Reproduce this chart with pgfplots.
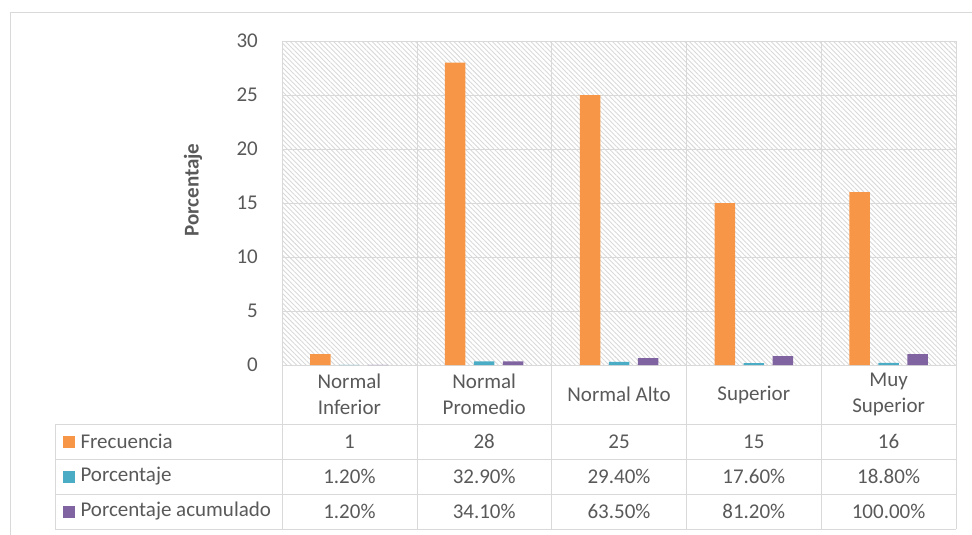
\documentclass[border=0pt]{standalone}
\usepackage{fontspec}
\setmainfont{Carlito}
\usepackage{pgfplots}
\usepackage{pgfplotstable}
\pgfplotsset{compat=1.18}
\usetikzlibrary{patterns.meta}
\definecolor{cfrec}{HTML}{F79646}
\definecolor{cporc}{HTML}{4BACC6}
\definecolor{cacum}{HTML}{8064A2}
\definecolor{cline}{HTML}{D9D9D9}
\definecolor{ctext}{HTML}{595959}
\newcommand{\cf}{\fontsize{21bp}{26bp}\selectfont}

% categoria, frecuencia, porcentaje, porcentaje acumulado
\pgfplotstableread{
x frec porc acum
0 1  0.012 0.012
1 28 0.329 0.341
2 25 0.294 0.635
3 15 0.176 0.812
4 16 0.188 1.000
}\datos

\begin{document}
\begin{tikzpicture}
\useasboundingbox (0,0) rectangle (972bp,-535bp);
\begin{axis}[
  at={(282bp,-365bp)}, anchor=south west,
  scale only axis, width=674bp, height=324bp,
  xmin=-0.5, xmax=4.5, ymin=0, ymax=30,
  ybar=8.5bp, bar width=20.5bp,
  xtick=\empty, ytick={0,5,...,30},
  ymajorgrids, grid style={cline, line width=1bp},
  major tick length=0pt,
  axis line style={cline, line width=1bp},
  axis background/.style={pattern={Lines[angle=-45,distance=3.4bp,line width=0.9bp]}, pattern color=cline},
  tick label style={font=\cf, text=ctext},
  /pgf/number format/assume math mode=true,
  yticklabel style={inner sep=0pt, xshift=-24bp},
  ylabel={Porcentaje},
  ylabel style={font=\cf\bfseries, text=ctext, at={(axis description cs:-0.132,0.54)}, anchor=center},
  clip=false,
]
\addplot[fill=cfrec, draw=none] table[x=x, y=frec]{\datos};
\addplot[fill=cporc, draw=none] table[x=x, y=porc]{\datos};
\addplot[fill=cacum, draw=none] table[x=x, y=acum]{\datos};
\end{axis}

\begin{scope}[x=1bp, y=-1bp, line width=1bp]
  \draw[cline] (10,535) -- (10,12) -- (972,12);
  \foreach \xx in {417,551,686,821} \draw[cline] (\xx,41) -- (\xx,529);
  \draw[cline] (282,365) -- (282,529);
  \draw[cline] (956,365) -- (956,529);
  \draw[cline] (55,424) -- (55,529);
  \foreach \yy in {424,459,494,529} \draw[cline] (55,\yy) -- (956,\yy);

  \begin{scope}[every node/.style={text=ctext, font=\cf, align=center, inner sep=0pt}]
  \node at (349.4,394.5) {Normal\\Inferior};
  \node at (484.2,394.5) {Normal\\Promedio};
  \node at (619.0,394.5) {Normal Alto};
  \node at (753.8,394.5) {Superior};
  \node at (888.6,394.5) {Muy\\Superior};

  \fill[cfrec] (63,435.5) rectangle (75,447.5);
  \fill[cporc] (63,470.5) rectangle (75,482.5);
  \fill[cacum] (63,505.5) rectangle (75,517.5);
  \node[anchor=west] at (80,441.5) {Frecuencia};
  \node[anchor=west] at (80,476.5) {Porcentaje};
  \node[anchor=west] at (80,511.5) {Porcentaje acumulado};

  \node at (349.4,441.5) {1};
  \node at (484.2,441.5) {28};
  \node at (619.0,441.5) {25};
  \node at (753.8,441.5) {15};
  \node at (888.6,441.5) {16};

  \node at (349.4,476.5) {1.20\%};
  \node at (484.2,476.5) {32.90\%};
  \node at (619.0,476.5) {29.40\%};
  \node at (753.8,476.5) {17.60\%};
  \node at (888.6,476.5) {18.80\%};

  \node at (349.4,511.5) {1.20\%};
  \node at (484.2,511.5) {34.10\%};
  \node at (619.0,511.5) {63.50\%};
  \node at (753.8,511.5) {81.20\%};
  \node at (888.6,511.5) {100.00\%};
  \end{scope}
\end{scope}
\end{tikzpicture}
\end{document}
